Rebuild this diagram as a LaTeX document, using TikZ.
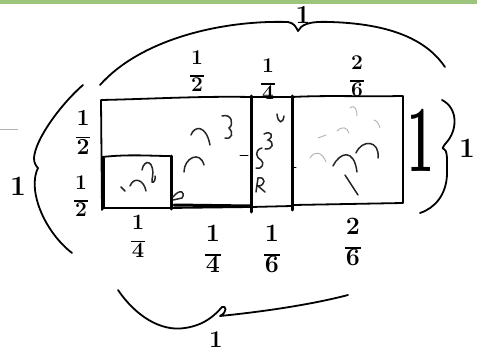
\documentclass[tikz,border=0pt]{standalone}
\usepackage{fontspec}
\newcommand\hfrac[2]{\begin{tabular}{@{}c@{}}#1\\[-0.42em]\rule{0.62em}{0.08em}\\[-0.32em]#2\end{tabular}}
\begin{document}
\begin{tikzpicture}[x=1pt,y=-1pt,
  pen/.style={line width=1.8pt,line cap=round,line join=round,black},
  thick pen/.style={line width=3pt,line cap=round,black},
  scrib/.style={line width=1.5pt,line cap=round,black!85},
  faint/.style={line width=0.9pt,line cap=round,black!30},
  frac/.style={inner sep=0pt,font=\fontsize{#1}{#1}\selectfont\bfseries},
  frac/.default=21,
  num/.style={inner sep=0pt,font=\fontsize{#1}{#1}\selectfont\bfseries},
]
\useasboundingbox (0,0) rectangle (477,353);
\fill[white] (0,0) rectangle (477,353);
\fill[fill={rgb,255:red,156;green,196;blue,124}] (0,0) rectangle (477,4.5);

% outer rectangle (slightly wobbly)
\draw[pen] (102,210) -- (101,100) .. controls (150,99) and (200,96) .. (251,97)
  -- (292,97) .. controls (330,95) and (370,97) .. (398,96) -- (403,96) -- (403,203)
  -- (293,205);
\draw[pen] (102,208) -- (170,208) -- (251,207) -- (292,206);
% inner small rectangle
\draw[pen] (102,157) .. controls (130,154) and (150,156) .. (170,156);
\draw[thick pen] (103,158) -- (103,208);
\draw[thick pen] (171,156) -- (171,209);
\draw[thick pen] (174,205) -- (250,206);
% vertical dividers
\draw[thick pen] (251,96) -- (251,212);
\draw[thick pen] (292,96) -- (292,210);
\draw[pen,line width=1pt] (240,155) -- (248,155);
\draw[pen,line width=1pt] (293,167) -- (296,167);

% scribbles inside
\draw[scrib] (222,116) .. controls (232,113) and (234,125) .. (229,128)
  .. controls (234,132) and (232,140) .. (225,138);
\draw[scrib] (191,135) .. controls (194,126) and (206,124) .. (210,145);
\draw[scrib] (184,172) .. controls (184,158) and (200,150) .. (204,165);
\draw[scrib] (142,170) .. controls (144,158) and (156,160) .. (152,180)
  .. controls (151,184) and (156,183) .. (155,176);
\draw[scrib] (130,186) .. controls (134,176) and (144,180) .. (146,191);
\draw[scrib] (121,187) -- (125,191);
\draw[scrib] (173,197) .. controls (180,188) and (186,192) .. (182,198) -- (173,200);
% column 251-292
\draw[scrib] (277,114) .. controls (278,124) and (283,124) .. (284,116);
\draw[scrib] (264,134) .. controls (272,130) and (274,137) .. (268,140)
  .. controls (275,142) and (273,150) .. (265,149);
\draw[scrib] (262,148) .. controls (254,150) and (256,158) .. (261,160)
  .. controls (265,163) and (262,170) .. (256,168);
\draw[scrib] (256,192) -- (258,178) .. controls (266,176) and (266,186) .. (258,186) -- (265,192);
% right rectangle
\draw[scrib] (333,166) .. controls (340,152) and (354,148) .. (357,172);
\draw[scrib] (356,153) .. controls (362,139) and (380,140) .. (378,158);
\draw[scrib] (345,175) -- (358,195);
\draw[faint] (310,158) .. controls (315,150) and (322,152) .. (326,162);
\draw[faint] (337,131) .. controls (342,126) and (347,127) .. (349,133);
\draw[faint] (350,108) .. controls (355,104) and (357,110) .. (357,116);
\draw[faint] (374,120) .. controls (377,121) and (379,124) .. (380,128);
\draw[faint] (318,138) -- (326,135);
\draw[faint] (0,129) -- (18,129);

% top labels
\node[frac=21] (t12) at (197,74) {\hfrac{1}{2}};
\node[frac=21] (t14) at (268,82) {\hfrac{1}{4}};
\node[frac=21] (t26) at (357,79) {\hfrac{2}{6}};
% left labels
\node[frac=23] (l12a) at (83,135) {\hfrac{1}{2}};
\node[frac=21] (l12b) at (81,199) {\hfrac{1}{2}};
% bottom labels
\node[frac=22] (b14a) at (138,239) {\hfrac{1}{4}};
\node[frac=25] (b14b) at (213,252) {\hfrac{1}{4}};
\node[frac=25] (b16) at (272,252) {\hfrac{1}{6}};
\node[frac=25] (b26) at (353,245) {\hfrac{2}{6}};

% braces
\coordinate (tbL) at (100,85);
\coordinate (tbM) at (298,31);
\coordinate (tbR) at (445,67);
\draw[pen] (tbL) .. controls (140,40) and (220,20) .. (288,22)
  .. controls (294,23) and (296,27) .. (tbM)
  .. controls (301,25) and (308,21) .. (330,22)
  .. controls (400,24) and (430,45) .. (tbR);
\node[num=26] (top1) at (303,15) {1};

\coordinate (lbT) at (83,85);
\coordinate (lbM) at (38,168);
\coordinate (lbB) at (72,253);
\draw[pen] (lbT) .. controls (60,105) and (35,140) .. (34,158)
  .. controls (34,163) and (36,166) .. (lbM)
  .. controls (36,172) and (34,178) .. (35,190)
  .. controls (38,215) and (55,240) .. (lbB);
\node[num=28] (left1) at (18,186) {1};

\coordinate (rbT) at (442,100);
\coordinate (rbM) at (443,148);
\coordinate (rbB) at (420,213);
\draw[pen] (rbT) .. controls (458,108) and (458,130) .. (446,143)
  .. controls (443,146) and (442,150) .. (rbM)
  .. controls (448,150) and (447,160) .. (447,175)
  .. controls (446,195) and (435,208) .. (rbB);
\node[num=28] (right1) at (467,148) {1};
\node[num=95,xscale=0.5] (big1) at (421,140) {1};

\coordinate (bbL) at (118,290);
\coordinate (bbM) at (222,307);
\coordinate (bbR) at (348,295);
\draw[pen] (bbL) .. controls (135,315) and (160,332) .. (185,328)
  .. controls (205,325) and (215,315) .. (bbM)
  .. controls (226,305) and (228,312) .. (220,316)
  .. controls (260,312) and (310,305) .. (bbR);
\node[num=24] (bot1) at (216,340) {1};
\end{tikzpicture}
\end{document}
